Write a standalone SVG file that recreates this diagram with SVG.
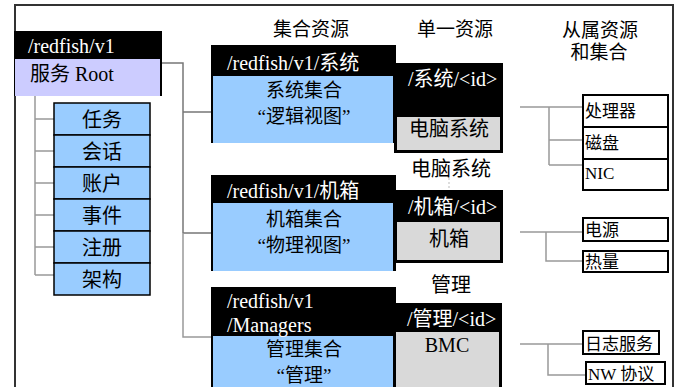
<svg xmlns="http://www.w3.org/2000/svg" width="678" height="387" viewBox="0 0 678 387">
<style>
text{font-family:"Liberation Serif","Noto Sans CJK SC",serif;}
.w{fill:#fff;font-size:20px;}
.b{fill:#000;font-size:20px;}
.m{text-anchor:middle;}
.s{fill:#000;font-size:17px;}
.blk{fill:#000;}
.blue{fill:#99ccff;}
.lav{fill:#ccccff;}
.gray{fill:#d9d9d9;}
.item{fill:#99ccff;stroke:#000;stroke-width:1.5;}
.sub{fill:#fff;stroke:#000;stroke-width:2;}
.c{fill:none;stroke:#999;stroke-width:1.5;}
.cd{fill:none;stroke:#777;stroke-width:1.5;}
</style>
<rect x="0" y="0" width="678" height="387" fill="#fff"/>
<path d="M15,390 V5 H673 V390" fill="none" stroke="#333" stroke-width="2"/>
<g id="connectors">
<path class="c" d="M35,96 V275 M35,119 H54 M35,151 H54 M35,183 H54 M35,215 H54 M35,247 H54 M35,275 H54"/>
<path class="cd" d="M162,63 H183 V233 M183,112 H212 M183,233 H212"/>
<path class="c" d="M183,233 V337 H212"/>
<path class="c" d="M520,107 H583 M549,107 V165 M549,140 H583 M549,165 H583"/>
<path class="c" d="M520,232 H583 M546,232 V261 H583"/>
<path class="c" d="M520,344 H583 M548,344 V375 H587"/>
<path d="M449,178 V190" stroke="#bbb" stroke-width="1" stroke-dasharray="2,2" fill="none"/>
</g>
<g id="titles">
<text class="b m" x="311" y="36" style="font-size:19px">集合资源</text>
<text class="b m" x="455" y="36" style="font-size:19px">单一资源</text>
<text class="b m" x="600" y="37" style="font-size:19px">从属资源</text>
<text class="b m" x="599" y="59" style="font-size:19px">和集合</text>
</g>
<g id="root">
<rect class="blk" x="14" y="31" width="148" height="65"/>
<rect class="lav" x="15" y="59" width="145" height="37"/>
<text class="w" x="28" y="53">/redfish/v1</text>
<text class="b" x="30" y="81">服务 Root</text>
</g>
<g id="task"><rect class="item" x="54" y="103" width="96" height="32"/><text class="b m" x="102" y="127">任务</text></g>
<g id="session"><rect class="item" x="54" y="135" width="96" height="32"/><text class="b m" x="102" y="159">会话</text></g>
<g id="account"><rect class="item" x="54" y="167" width="96" height="32"/><text class="b m" x="102" y="191">账户</text></g>
<g id="event"><rect class="item" x="54" y="199" width="96" height="32"/><text class="b m" x="102" y="223">事件</text></g>
<g id="registry"><rect class="item" x="54" y="231" width="96" height="32"/><text class="b m" x="102" y="255">注册</text></g>
<g id="schema"><rect class="item" x="54" y="263" width="96" height="32"/><text class="b m" x="102" y="287">架构</text></g>
<g id="systems">
<rect class="blk" x="211" y="45" width="185" height="98"/>
<rect class="blue" x="213" y="76" width="180" height="67"/>
<text class="w" x="227" y="70">/redfish/v1/系统</text>
<text class="b m" x="304" y="97" style="font-size:19px">系统集合</text>
<text class="b m" x="304" y="123" style="font-size:19px">“逻辑视图”</text>
</g>
<g id="system">
<rect class="blk" x="394" y="63" width="109" height="90"/>
<rect class="gray" x="397" y="117" width="103" height="33"/>
<text class="w" x="408" y="86">/系统/&lt;id&gt;</text>
<text class="b m" x="449" y="136">电脑系统</text>
</g>
<text class="b m" x="451" y="176">电脑系统</text>
<g id="chassis-col">
<rect class="blk" x="211" y="175" width="185" height="96"/>
<rect class="blue" x="213" y="203" width="180" height="68"/>
<text class="w" x="227" y="198">/redfish/v1/机箱</text>
<text class="b m" x="304" y="226" style="font-size:19px">机箱集合</text>
<text class="b m" x="304" y="252" style="font-size:19px">“物理视图”</text>
</g>
<g id="chassis">
<rect class="blk" x="394" y="190" width="109" height="73"/>
<rect class="gray" x="397" y="222" width="103" height="38"/>
<text class="w" x="408" y="214">/机箱/&lt;id&gt;</text>
<text class="b m" x="449" y="246">机箱</text>
</g>
<text class="b m" x="451" y="292">管理</text>
<g id="managers-col">
<rect class="blk" x="211" y="287" width="185" height="100"/>
<rect class="blue" x="213" y="336" width="180" height="51"/>
<text class="w" x="227" y="308">/redfish/v1</text>
<text class="w" x="227" y="332">/Managers</text>
<text class="b m" x="304" y="356" style="font-size:19px">管理集合</text>
<text class="b m" x="304" y="382" style="font-size:19px">“管理”</text>
</g>
<g id="manager">
<rect class="blk" x="393" y="303" width="109" height="84"/>
<rect class="gray" x="396" y="332" width="103" height="55"/>
<text class="w" x="407" y="326">/管理/&lt;id&gt;</text>
<text class="b m" x="447" y="352">BMC</text>
</g>
<g id="processor"><rect class="sub" x="583" y="95" width="85" height="32"/><text class="s" x="585" y="117">处理器</text></g>
<g id="disk"><rect class="sub" x="583" y="127" width="85" height="32"/><text class="s" x="585" y="149">磁盘</text></g>
<g id="nic"><rect class="sub" x="583" y="159" width="85" height="31"/><text class="s" x="585" y="179">NIC</text></g>
<g id="power"><rect class="sub" x="583" y="218" width="85" height="23"/><text class="s" x="585" y="236">电源</text></g>
<g id="thermal"><rect class="sub" x="583" y="251" width="85" height="21"/><text class="s" x="585" y="268">热量</text></g>
<g id="log"><rect class="sub" x="583" y="331" width="76" height="23"/><text class="s" x="585" y="350">日志服务</text></g>
<g id="nw"><rect class="sub" x="586" y="362" width="79" height="22"/><text class="s" x="588" y="380">NW 协议</text></g>
</svg>
